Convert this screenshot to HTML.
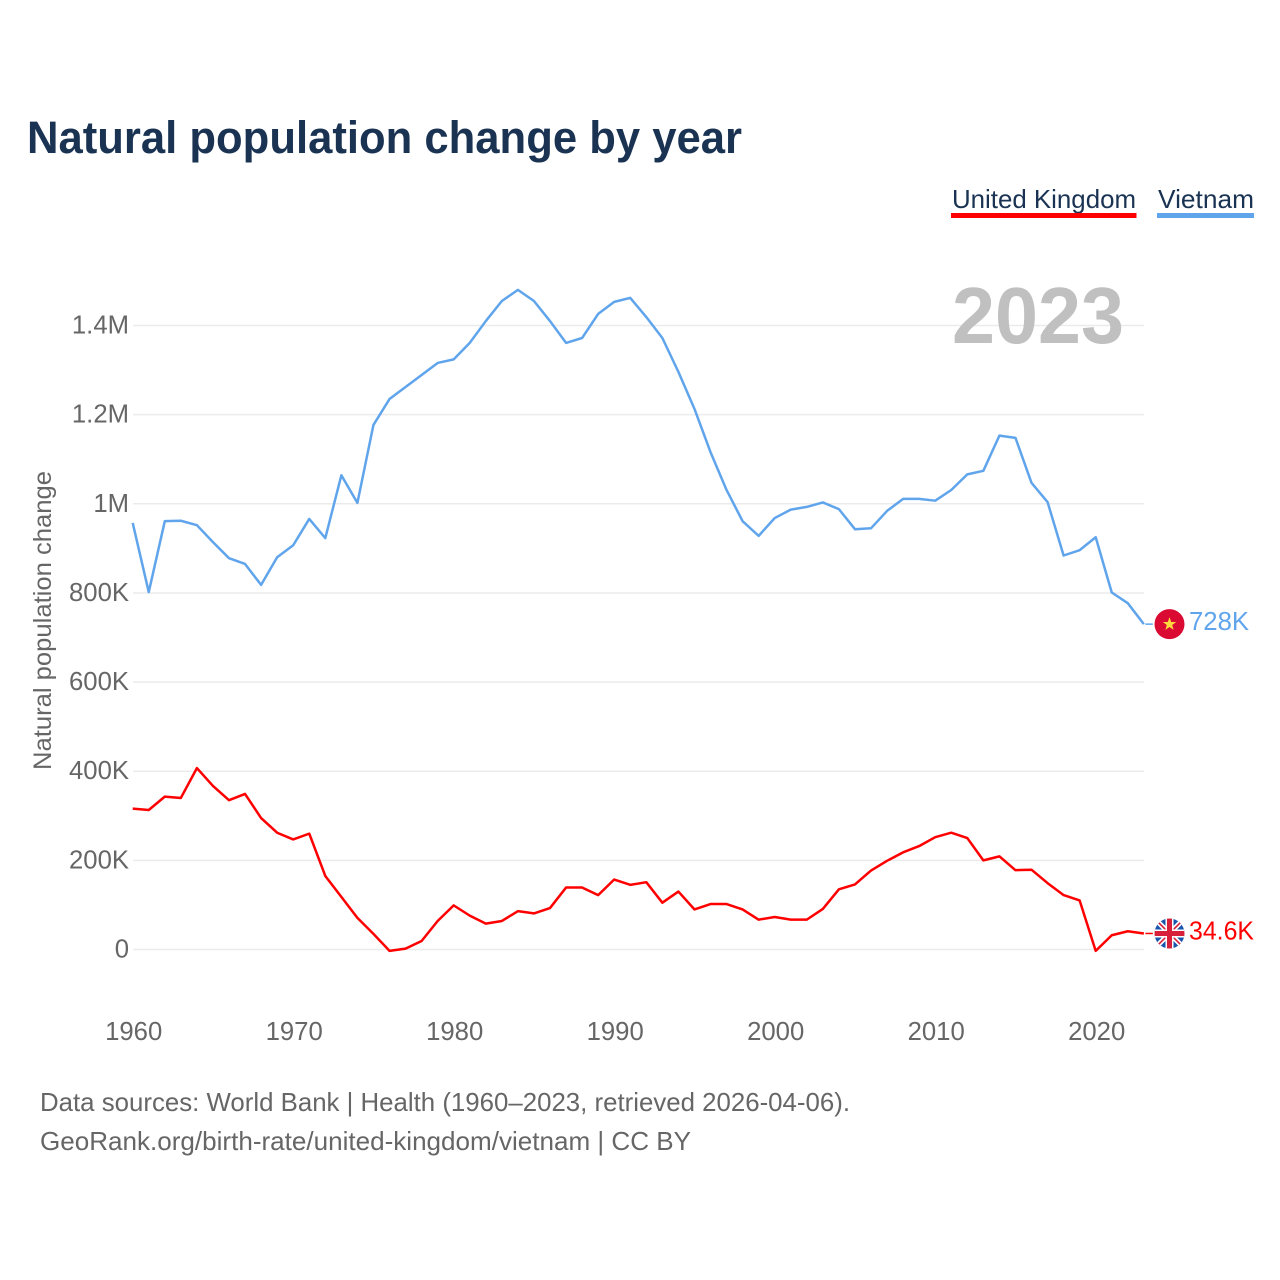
<!DOCTYPE html>
<html lang="en">
<head>
<meta charset="utf-8">
<title>Natural population change by year</title>
<style>
html,body{margin:0;padding:0;background:#fff;}
svg{display:block;font-family:"Liberation Sans",sans-serif;}
</style>
</head>
<body>
<svg id="chart" xmlns="http://www.w3.org/2000/svg" width="1280" height="1280" viewBox="0 0 1280 1280">
  <rect width="1280" height="1280" fill="#fff"/>
  <text x="27" y="153" font-size="45" font-weight="700" fill="#1a3353" textLength="715" lengthAdjust="spacingAndGlyphs">Natural population change by year</text>
  <g>
    <text x="952" y="208" font-size="26" fill="#1a3353" textLength="184" lengthAdjust="spacingAndGlyphs">United Kingdom</text>
    <rect x="951" y="213" width="185.5" height="5" fill="#ff0000"/>
  </g>
  <g>
    <text x="1158" y="208" font-size="26" fill="#1a3353" textLength="96" lengthAdjust="spacingAndGlyphs">Vietnam</text>
    <rect x="1157" y="213" width="97" height="5" fill="#60a5ec"/>
  </g>
  <g id="grid"></g>
  <text x="1124" y="343" text-anchor="end" font-size="80" font-weight="700" fill="#c0c0c0" textLength="172" lengthAdjust="spacingAndGlyphs">2023</text>
  <g id="yticks"></g>
  <g id="xticks"></g>
  <text transform="translate(51,770) rotate(-90)" font-size="25" fill="#666" textLength="299" lengthAdjust="spacingAndGlyphs">Natural population change</text>
  <g id="series"></g>
  <g id="ends"></g>
  <text x="40" y="1111" font-size="26" fill="#666" textLength="810" lengthAdjust="spacingAndGlyphs">Data sources: World Bank | Health (1960–2023, retrieved 2026-04-06).</text>
  <text x="40" y="1150" font-size="26" fill="#666" textLength="651" lengthAdjust="spacingAndGlyphs">GeoRank.org/birth-rate/united-kingdom/vietnam | CC BY</text>
</svg>
<script>
var firstYear = 1960;
var vietnamValues = [957,802,961,962,952,914,878,865,818,880,907,966,923,1064,1002,1177,1235,1262,1289,1316,1324,1361,1410,1455,1480,1455,1410,1361,1372,1426,1453,1462,1419,1372,1296,1213,1116,1031,961,928,968,987,993,1003,988,943,945,984,1011,1011,1007,1031,1066,1074,1153,1148,1047,1004,884,896,925,801,777,730];
var ukValues = [316,313,343,340,407,367,335,349,295,262,247,260,165,118,71,35,-3,2,19,64,99,76,58,64,86,81,93,139,139,122,157,145,151,105,130,90,102,102,90,67,73,67,67,91,135,146,177,199,218,232,252,262,250,200,209,178,179,149,122,110,-3,32,41,36];
var yTickValues = [0,200,400,600,800,1000,1200,1400];
var yTickLabels = ["0","200K","400K","600K","800K","1M","1.2M","1.4M"];
var xTickValues = [1960,1970,1980,1990,2000,2010,2020];
var vietnamEndLabel = "728K";
var ukEndLabel = "34.6K";

var NS = "http://www.w3.org/2000/svg";
function xScale(year){ return 132.7 + (year - 1960) * 16.05; }
function yScale(v){ return 949.5 - v * 0.4457; }
function make(tag, parent){
  var el = document.createElementNS(NS, tag);
  parent.appendChild(el);
  return el;
}
function pointsFor(values){
  return values.map(function(v, i){
    return xScale(firstYear + i).toFixed(2) + "," + yScale(v).toFixed(2);
  }).join(" ");
}
var gridG = document.getElementById("grid");
var yG = document.getElementById("yticks");
var xG = document.getElementById("xticks");
var seriesG = document.getElementById("series");
var endsG = document.getElementById("ends");

yTickValues.forEach(function(v, i){
  var line = make("line", gridG);
  
  
  line.setAttribute("x1", 133);
  line.setAttribute("x2", 1144);
  line.setAttribute("y1", yScale(v));
  line.setAttribute("y2", yScale(v));
  line.setAttribute("stroke", "#ebebeb");
  line.setAttribute("stroke-width", "1.5");
  var t = make("text", yG);
  
  
  t.setAttribute("x", 129);
  t.setAttribute("y", yScale(v) + 8);
  t.setAttribute("text-anchor", "end");
  t.setAttribute("font-size", "25.7");
  t.setAttribute("fill", "#666");
  t.textContent = yTickLabels[i];
});
xTickValues.forEach(function(y){
  var t = make("text", xG);
  
  
  t.setAttribute("x", xScale(y) + 1);
  t.setAttribute("y", 1040);
  t.setAttribute("text-anchor", "middle");
  t.setAttribute("font-size", "25.7");
  t.setAttribute("fill", "#666");
  t.textContent = String(y);
});

var vietnamLine = make("polyline", seriesG);


vietnamLine.setAttribute("points", pointsFor(vietnamValues));
vietnamLine.setAttribute("fill", "none");
vietnamLine.setAttribute("stroke", "#60a5ec");
vietnamLine.setAttribute("stroke-width", "2.5");
vietnamLine.setAttribute("stroke-linejoin", "round");

var ukLine = make("polyline", seriesG);


ukLine.setAttribute("points", pointsFor(ukValues));
ukLine.setAttribute("fill", "none");
ukLine.setAttribute("stroke", "#ff0000");
ukLine.setAttribute("stroke-width", "2.5");
ukLine.setAttribute("stroke-linejoin", "round");

/* End-of-line leaders, flags and value labels */
var vy = yScale(vietnamValues[vietnamValues.length - 1]);
var uy = yScale(ukValues[ukValues.length - 1]);
var lastX = xScale(firstYear + vietnamValues.length - 1);

var vLead = make("line", endsG);


vLead.setAttribute("x1", lastX + 1.5);
vLead.setAttribute("x2", lastX + 9);
vLead.setAttribute("y1", vy);
vLead.setAttribute("y2", vy);
vLead.setAttribute("stroke", "#60a5ec");
vLead.setAttribute("stroke-width", "1.5");

var uLead = make("line", endsG);


uLead.setAttribute("x1", lastX + 1.5);
uLead.setAttribute("x2", lastX + 9);
uLead.setAttribute("y1", uy);
uLead.setAttribute("y2", uy);
uLead.setAttribute("stroke", "#ff0000");
uLead.setAttribute("stroke-width", "1.5");

var vFlag = make("g", endsG);


vFlag.setAttribute("transform", "translate(1169.5," + vy + ")");
vFlag.innerHTML = '<circle r="15" fill="#da0a33"/><polygon fill="#ffd83d" points="0,-7 1.7,-2.2 6.7,-2.2 2.7,0.9 4.1,5.7 0,2.8 -4.1,5.7 -2.7,0.9 -6.7,-2.2 -1.7,-2.2"/>';

var uFlag = make("g", endsG);


uFlag.setAttribute("transform", "translate(1169.5," + uy + ")");
uFlag.innerHTML = '<clipPath id="ukclip"><circle r="15"/></clipPath><g clip-path="url(#ukclip)"><rect x="-15" y="-15" width="30" height="30" fill="#1a55ad"/><path d="M-15,-15L15,15M15,-15L-15,15" stroke="#fff" stroke-width="5"/><path d="M-15,-15L15,15M15,-15L-15,15" stroke="#d8203a" stroke-width="1.6"/><path d="M0,-15V15M-15,0H15" stroke="#fff" stroke-width="8"/><path d="M0,-15V15M-15,0H15" stroke="#d8203a" stroke-width="5"/></g>';

var vLabel = make("text", endsG);


vLabel.setAttribute("x", 1189);
vLabel.setAttribute("y", vy + 6);
vLabel.setAttribute("font-size", "25.7");
vLabel.setAttribute("fill", "#60a5ec");
vLabel.setAttribute("textLength", "60");
vLabel.setAttribute("lengthAdjust", "spacingAndGlyphs");
vLabel.textContent = vietnamEndLabel;

var uLabel = make("text", endsG);


uLabel.setAttribute("x", 1189);
uLabel.setAttribute("y", uy + 6);
uLabel.setAttribute("font-size", "25.7");
uLabel.setAttribute("fill", "#ff0000");
uLabel.setAttribute("textLength", "65");
uLabel.setAttribute("lengthAdjust", "spacingAndGlyphs");
uLabel.textContent = ukEndLabel;
</script>
</body>
</html>
